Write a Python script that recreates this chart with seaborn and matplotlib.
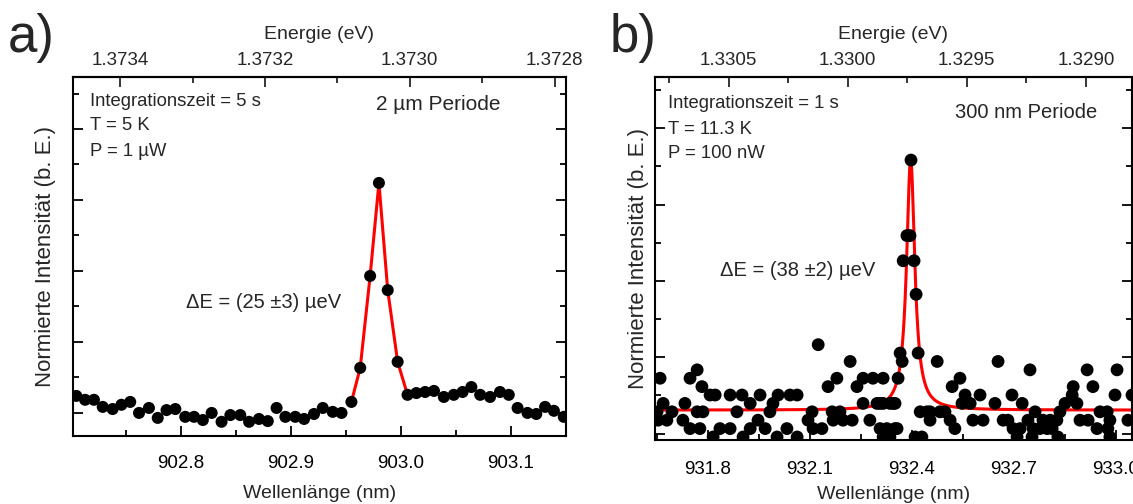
import numpy as np
import pandas as pd
import matplotlib
matplotlib.use("Agg")
import matplotlib.pyplot as plt
import seaborn as sns
from matplotlib.ticker import MultipleLocator, NullFormatter, FormatStrFormatter

HC_A = 1239.83  # eV nm, conversion used for the top axis of panel a
HC_B = 1239.84  # eV nm, conversion used for the top axis of panel b

# ---------------- Panel a data (2 um period) ----------------
wl_a = [902.705, 902.713, 902.721, 902.729, 902.738, 902.746, 902.754, 902.762, 902.771,
        902.779, 902.787, 902.795, 902.804, 902.812, 902.820, 902.828, 902.837, 902.845,
        902.854, 902.862, 902.871, 902.879, 902.887, 902.895, 902.904, 902.912, 902.921,
        902.929, 902.938, 902.946, 902.955, 902.963, 902.972, 902.980, 902.988, 902.997,
        903.006, 903.014, 903.022, 903.030, 903.039, 903.048, 903.056, 903.064, 903.072,
        903.081, 903.090, 903.098, 903.106, 903.115, 903.123, 903.131, 903.139, 903.148]
int_a = [0.248, 0.237, 0.237, 0.217, 0.211, 0.223, 0.231, 0.200, 0.214,
         0.186, 0.208, 0.211, 0.189, 0.189, 0.180, 0.200, 0.175, 0.194,
         0.194, 0.175, 0.183, 0.177, 0.214, 0.189, 0.189, 0.183, 0.197,
         0.214, 0.203, 0.200, 0.231, 0.327, 0.586, 0.848, 0.546, 0.344,
         0.251, 0.256, 0.259, 0.262, 0.245, 0.251, 0.259, 0.273, 0.251,
         0.245, 0.259, 0.251, 0.214, 0.200, 0.197, 0.217, 0.206, 0.189]
fit_a_start, fit_a_stop = 30, 37  # data points joined by the red fit line

# ---------------- Panel b data (300 nm period) ----------------
wl_b = [931.650, 931.653, 931.659, 931.668, 931.679, 931.694, 931.726, 931.732, 931.747, 931.747,
        931.768, 931.768, 931.776, 931.782, 931.785, 931.806, 931.815, 931.821, 931.835, 931.865,
        931.865, 931.885, 931.900, 931.903, 931.924, 931.924, 931.947, 931.953, 931.968, 931.982,
        931.991, 932.003, 932.006, 932.032, 932.041, 932.062, 932.062, 932.094, 932.106, 932.109,
        932.124, 932.135, 932.153, 932.165, 932.168, 932.179, 932.188, 932.197, 932.218, 932.224,
        932.238, 932.256, 932.256, 932.276, 932.285, 932.297, 932.306, 932.306, 932.315, 932.315,
        932.315, 932.326, 932.335, 932.335, 932.344, 932.350, 932.350, 932.356, 932.359, 932.365,
        932.371, 932.374, 932.385, 932.394, 932.397, 932.406, 932.409, 932.412, 932.418, 932.424,
        932.429, 932.444, 932.453, 932.453, 932.474, 932.482, 932.497, 932.512, 932.518, 932.526,
        932.541, 932.547, 932.556, 932.571, 932.579, 932.600, 932.609, 932.644, 932.653, 932.668,
        932.682, 932.694, 932.697, 932.709, 932.718, 932.724, 932.741, 932.747, 932.753, 932.756,
        932.762, 932.776, 932.785, 932.797, 932.806, 932.812, 932.826, 932.829, 932.835, 932.850,
        932.871, 932.874, 932.885, 932.894, 932.915, 932.918, 932.932, 932.944, 932.953, 932.974,
        932.976, 932.982, 932.982, 932.997, 933.003, 933.035, 933.047]
cnt_b = [4, 3, 8, 5, 3, 4, 3, 5, 8, 2,
         9, 4, 2, 7, 4, 6, 1, 6, 2, 2,
         6, 4, 6, 1, 5, 2, 3, 6, 2, 4,
         5, 1, 6, 2, 6, 6, 1, 3, 4, 2,
         12, 2, 7, 4, 3, 8, 4, 3, 10, 3,
         7, 8, 5, 3, 8, 5, 2, 5, 8, 5,
         1, 2, 5, 1, 5, 5, 2, 2, 8, 11,
         10, 22, 25, 25, 34, 22, 1, 18, 11, 4,
         1, 4, 4, 3, 10, 4, 4, 3, 7, 2,
         8, 5, 6, 5, 3, 6, 3, 5, 10, 3,
         3, 6, 2, 1, 2, 5, 3, 9, 1, 2,
         4, 2, 3, 2, 3, 2, 3, 1, 4, 5,
         6, 7, 5, 3, 9, 3, 7, 2, 4, 4,
         2, 3, 1, 6, 9, 3, 6]
# Lorentzian fit parameters (panel b)
fit_b_center = 932.396
fit_b_fwhm = 0.029
fit_b_amp = 30.0
fit_b_offset = 4.2

sns.set_theme(style="ticks")
plt.rcParams['font.family'] = ['Liberation Sans', 'DejaVu Sans']
plt.rcParams['axes.edgecolor'] = 'black'

W, H = 1133, 504
fig = plt.figure(figsize=(W / 100, H / 100), dpi=100)


def rect(l, t, r, b):
    return [l / W, 1 - b / H, (r - l) / W, (b - t) / H]


def make_conv(hc):
    def conv(x):
        x = np.asarray(x, dtype=float)
        with np.errstate(divide='ignore', invalid='ignore'):
            return hc / x
    return conv


axa = fig.add_axes(rect(73, 77, 566, 436))
axb = fig.add_axes(rect(655, 77, 1132, 440))

LAB = 14
TICK = 13.5


def style(ax, xmaj, xmin, ymaj, ymin, emaj, emin, xpad, ylpad, xlpad, hc):
    for s in ax.spines.values():
        s.set_linewidth(1.5)
        s.set_color('black')
    ax.xaxis.set_major_locator(xmaj)
    ax.xaxis.set_minor_locator(xmin)
    ax.yaxis.set_major_locator(ymaj)
    ax.yaxis.set_minor_locator(ymin)
    ax.yaxis.set_major_formatter(NullFormatter())
    ax.tick_params(which='both', direction='in', left=True, right=True, top=False,
                   bottom=True, width=1.3, colors='black', labelsize=TICK)
    ax.tick_params(axis='x', which='both', pad=xpad)
    ax.tick_params(which='major', length=7)
    ax.tick_params(which='minor', length=4)
    ax.xaxis.set_major_formatter(FormatStrFormatter('%.1f'))
    conv = make_conv(hc)
    sec = ax.secondary_xaxis('top', functions=(conv, conv))
    sec.xaxis.set_major_locator(emaj)
    sec.xaxis.set_minor_locator(emin)
    sec.xaxis.set_major_formatter(FormatStrFormatter('%.4f'))
    sec.tick_params(which='both', direction='in', width=1.3, labelsize=TICK, pad=6)
    sec.tick_params(which='major', length=7)
    sec.tick_params(which='minor', length=4)
    sec.spines['top'].set_linewidth(1.5)
    sec.set_xlabel('Energie (eV)', fontsize=LAB, labelpad=9)
    ax.set_xlabel('Wellenlänge (nm)', fontsize=LAB, labelpad=xlpad)
    ax.set_ylabel('Normierte Intensität (b. E.)', fontsize=16, labelpad=ylpad)
    return sec


# ---- panel a ----
dfa = pd.DataFrame({'wl': wl_a, 'I': int_a})
dfa_fit = dfa.iloc[fit_a_start:fit_a_stop]
sns.lineplot(data=dfa_fit, x='wl', y='I', ax=axa, color='#ff0000', lw=2.2,
             estimator=None, sort=False, zorder=2)
sns.scatterplot(data=dfa, x='wl', y='I', ax=axa, color='black', s=75,
                edgecolor='none', zorder=3)
axa.set_xlim(902.702, 903.150)
axa.set_ylim(0.135, 1.1465)
style(axa, MultipleLocator(0.1), MultipleLocator(0.05), MultipleLocator(0.2),
      MultipleLocator(0.1), MultipleLocator(0.0002), MultipleLocator(0.0001),
      xpad=14, ylpad=9, xlpad=9, hc=HC_A)

# ---- panel b ----
dfb = pd.DataFrame({'wl': wl_b, 'c': cnt_b})
xx = np.linspace(931.64, 933.06, 1500)
yy = fit_b_offset + fit_b_amp / (1 + (2 * (xx - fit_b_center) / fit_b_fwhm) ** 2)
sns.lineplot(x=xx, y=yy, ax=axb, color='#ff0000', lw=2.2, estimator=None, sort=False, zorder=2)
sns.scatterplot(data=dfb, x='wl', y='c', ax=axb, color='black', s=85,
                edgecolor='none', zorder=3)
axb.set_xlim(931.644, 933.047)
axb.set_ylim(0.64, 43.9)
style(axb, MultipleLocator(0.3), MultipleLocator(0.15), MultipleLocator(9.1, offset=1.4),
      MultipleLocator(4.55, offset=1.4), MultipleLocator(0.0005), MultipleLocator(0.00025),
      xpad=15, ylpad=1, xlpad=6, hc=HC_B)


def ftext(x, y, s, size=13.3, **kw):
    fig.text(x / W, 1 - y / H, s, fontsize=size, va='center', ha='left', **kw)


ftext(8, 38, 'a)', size=38)
ftext(610, 38, 'b)', size=38)

ftext(90, 101, 'Integrationszeit = 5 s')
ftext(90, 126, 'T = 5 K')
ftext(90, 151, 'P = 1 µW')
ftext(376, 105, '2 µm Periode', size=15)
ftext(186, 303, 'ΔE = (25 ±3) µeV', size=14.5)

ftext(668, 104, 'Integrationszeit = 1 s')
ftext(668, 129, 'T = 11.3 K')
ftext(668, 154, 'P = 100 nW')
ftext(955, 112, '300 nm Periode', size=14.5)
ftext(720, 270, 'ΔE = (38 ±2) µeV', size=14.5)

fig.savefig('out.png', dpi=100)
